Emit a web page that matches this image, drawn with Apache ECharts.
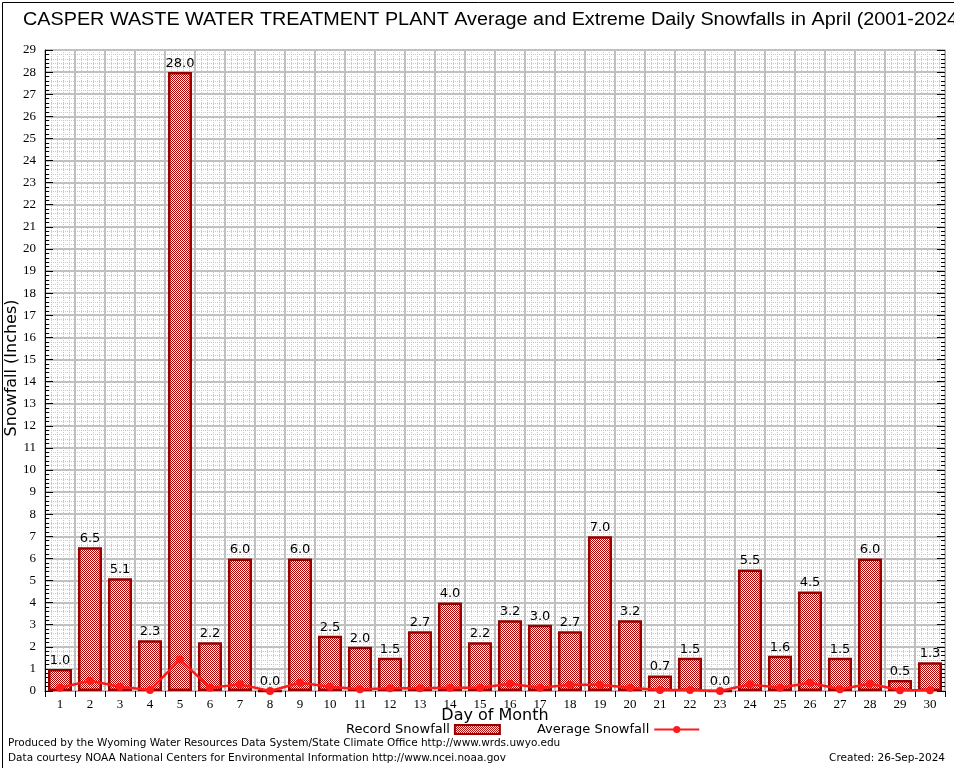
<!DOCTYPE html>
<html>
<head>
<meta charset="utf-8">
<script src="https://cdn.jsdelivr.net/npm/echarts@6/dist/echarts.min.js"></script>
<style>html,body{margin:0;padding:0;background:#fff}#c{width:954px;height:768px}</style>
</head>
<body>
<div id="c"></div>
<script>
const days = ['1','2','3','4','5','6','7','8','9','10','11','12','13','14','15','16','17','18','19','20','21','22','23','24','25','26','27','28','29','30'];
const recordSnowfall = [1.0,6.5,5.1,2.3,28.0,2.2,6.0,0.0,6.0,2.5,2.0,1.5,2.7,4.0,2.2,3.2,3.0,2.7,7.0,3.2,0.7,1.5,0.0,5.5,1.6,4.5,1.5,6.0,0.5,1.3];
const averageSnowfall = [0.15,0.46,0.19,0.04,1.42,0.15,0.30,0.0,0.37,0.19,0.08,0.12,0.12,0.15,0.15,0.33,0.15,0.28,0.28,0.15,0.04,0.05,0.0,0.30,0.15,0.37,0.08,0.33,0.03,0.03];
const yMin = 0, yMax = 29;

const pc = document.createElement('canvas');
pc.width = 2; pc.height = 2;
const pctx = pc.getContext('2d');
pctx.fillStyle = '#ffffff'; pctx.fillRect(0,0,2,2);
pctx.fillStyle = '#b00000'; pctx.fillRect(0,0,1,1); pctx.fillRect(1,1,1,1);
const pattern = {image: pc, repeat: 'repeat'};

const chart = echarts.init(document.getElementById('c'), null, {renderer: 'canvas'});
const serif = '"Liberation Serif","DejaVu Serif",serif';
const sans = '"DejaVu Sans",sans-serif';
chart.setOption({
  animation: false,
  backgroundColor: '#fff',
  grid: {left: 45, right: 9, top: 50, bottom: 77, containLabel: false, outerBoundsMode: 'none'},
  legend: {
    left: 341, top: 718,
    align: 'right',
    itemWidth: 45, itemHeight: 9, itemGap: 36,
    textStyle: {fontFamily: sans, fontSize: 13, color: '#000'},
    data: [
      {name: 'Record Snowfall', icon: 'rect', itemStyle: {color: pattern, borderColor: '#990000', borderWidth: 2}},
      {name: 'Average Snowfall'}
    ]
  },
  xAxis: [
    {
      type: 'category', data: days, boundaryGap: true,
      axisLine: {lineStyle: {color: '#000', width: 1}},
      axisTick: {inside: true, length: 6, lineStyle: {color: '#000'}},
      axisLabel: {fontFamily: serif, fontSize: 13, color: '#000', margin: 7},
      splitLine: {show: false}
    },
    {
      type: 'value', min: 0, max: 30, interval: 1, position: 'top',
      axisLine: {show: true, lineStyle: {color: '#aaa'}},
      axisTick: {show: true, inside: true, length: 6, lineStyle: {color: '#000'}},
      axisLabel: {show: false},
      splitLine: {show: true, lineStyle: {color: '#c0c0c0', width: 2}},
      minorTick: {show: false, splitNumber: 5},
      minorSplitLine: {show: true, lineStyle: {color: '#c8c8c8', type: [1, 1], width: 1}}
    }
  ],
  yAxis: [
    {
      type: 'value', min: yMin, max: yMax, interval: 1,
      axisLine: {show: true, lineStyle: {color: '#000'}},
      axisTick: {show: true, inside: true, length: 8, lineStyle: {color: '#000'}},
      minorTick: {show: true, splitNumber: 5, length: 4, lineStyle: {color: '#000'}},
      axisLabel: {fontFamily: serif, fontSize: 13, color: '#000', margin: 9},
      splitLine: {show: true, lineStyle: {color: '#c0c0c0', width: 2}},
      minorSplitLine: {show: true, lineStyle: {color: '#c8c8c8', type: [1, 1], width: 1}}
    },
    {
      type: 'value', min: yMin, max: yMax, interval: 1, position: 'right',
      axisLine: {show: true, lineStyle: {color: '#aaa'}},
      axisTick: {show: true, inside: true, length: 8, lineStyle: {color: '#000'}},
      minorTick: {show: true, splitNumber: 5, length: 4, lineStyle: {color: '#000'}},
      axisLabel: {show: false},
      splitLine: {show: false}
    }
  ],
  series: [
    {
      name: 'Record Snowfall', type: 'bar', data: recordSnowfall,
      barWidth: '80%',
      itemStyle: {color: pattern, borderColor: '#990000', borderWidth: 2.5},
      label: {show: true, position: 'top', distance: 2, fontFamily: sans, fontSize: 13, color: '#000',
        formatter: p => p.value.toFixed(1)},
      z: 3
    },
    {
      name: 'Average Snowfall', type: 'line', data: averageSnowfall,
      symbol: 'circle', symbolSize: 8,
      lineStyle: {color: '#ff1a1a', width: 2.5},
      itemStyle: {color: '#ff1a1a'},
      z: 4
    }
  ],
  graphic: [
    {type: 'rect', left: 0, top: 0, shape: {x: 0, y: 0, width: 953, height: 767}, style: {fill: 'none', stroke: '#000', lineWidth: 1}, silent: true, z: 100},
    {type: 'text', x: 23, y: 20, scaleX: 1.1, scaleY: 1, originX: 0, originY: 0,
      style: {text: 'CASPER WASTE WATER TREATMENT PLANT Average and Extreme Daily Snowfalls in April (2001-2024)',
        fontFamily: '"Liberation Sans",sans-serif', fontSize: 18, fill: '#000', verticalAlign: 'middle', align: 'left'}},
    {type: 'text', x: 12, y: 368, rotation: Math.PI / 2,
      style: {text: 'Snowfall (Inches)', fontFamily: sans, fontSize: 16, fill: '#000', align: 'center', verticalAlign: 'middle'}},
    {type: 'text', x: 495, y: 716,
      style: {text: 'Day of Month', fontFamily: sans, fontSize: 16, fill: '#000', align: 'center', verticalAlign: 'middle'}},
    {type: 'text', left: 8, top: 738, style: {text: 'Produced by the Wyoming Water Resources Data System/State Climate Office http://www.wrds.uwyo.edu', fontFamily: sans, fontSize: 10.5, fill: '#000'}},
    {type: 'text', left: 8, top: 753, style: {text: 'Data courtesy NOAA National Centers for Environmental Information http://www.ncei.noaa.gov', fontFamily: sans, fontSize: 10.5, fill: '#000'}},
    {type: 'text', right: 9, top: 753, style: {text: 'Created: 26-Sep-2024', fontFamily: sans, fontSize: 10.5, fill: '#000'}}
  ]
});
</script>
</body>
</html>
